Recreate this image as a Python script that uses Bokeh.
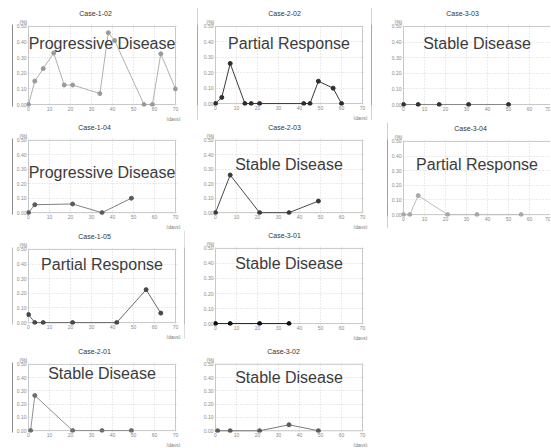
from bokeh.plotting import figure
from bokeh.models import (Label, FixedTicker, NumeralTickFormatter, Spacer, Title,
                          BoxAnnotation)
from bokeh.layouts import row, column
from bokeh.embed import file_html
from bokeh.resources import INLINE

# ---------------- data ----------------
x_ticks = [0, 10, 20, 30, 40, 50, 60, 70]
y_ticks = [0.0, 0.1, 0.2, 0.3, 0.4, 0.5]

case_1_02_days = [0, 3, 7, 12, 17, 21, 34, 38, 41, 55, 59, 63, 70]
case_1_02_pct = [0.00, 0.15, 0.23, 0.33, 0.125, 0.125, 0.07, 0.46, 0.41, 0.00, 0.00, 0.325, 0.10]

case_2_02_days = [0, 3, 7, 14, 17, 21, 42, 45, 49, 56, 60]
case_2_02_pct = [0.00, 0.04, 0.26, 0.00, 0.00, 0.00, 0.00, 0.00, 0.145, 0.10, 0.00]

case_3_03_days = [0, 7, 17, 31, 50]
case_3_03_pct = [0.00, 0.00, 0.00, 0.00, 0.00]

case_1_04_days = [0, 3, 21, 35, 49]
case_1_04_pct = [0.00, 0.055, 0.06, 0.00, 0.10]

case_2_03_days = [0, 7, 21, 35, 49]
case_2_03_pct = [0.00, 0.26, 0.00, 0.00, 0.08]

case_3_04_days = [0, 3, 7, 21, 35, 56]
case_3_04_pct = [0.00, 0.00, 0.13, 0.00, 0.00, 0.00]

case_1_05_days = [0, 3, 7, 21, 42, 56, 63]
case_1_05_pct = [0.055, 0.00, 0.00, 0.00, 0.00, 0.225, 0.065]

case_3_01_days = [0, 7, 21, 35]
case_3_01_pct = [0.00, 0.00, 0.00, 0.00]

case_2_01_days = [1, 3, 21, 35, 49]
case_2_01_pct = [0.00, 0.265, 0.00, 0.00, 0.00]

case_3_02_days = [1, 7, 21, 35, 49]
case_3_02_pct = [0.00, 0.00, 0.00, 0.045, 0.00]

FONT = "Liberation Sans"
PAD = 2  # px of breathing room so markers on the axes are not cut


def bar(w, h, color):
    f = figure(width=w, height=h, toolbar_location=None, output_backend="svg",
               x_axis_type=None, y_axis_type=None, title=None,
               min_border=0, min_border_left=0, min_border_right=0,
               min_border_top=0, min_border_bottom=0)
    f.outline_line_color = None
    f.background_fill_color = color
    f.border_fill_color = color
    return f


def edge(h, color, lead=12):
    """white strip of `lead` px followed by a 1px coloured vertical rule"""
    f = figure(width=lead + 1, height=h, toolbar_location=None, output_backend="svg",
               x_axis_type=None, y_axis_type=None, title=None,
               min_border=0, min_border_left=lead, min_border_right=0,
               min_border_top=0, min_border_bottom=0)
    f.outline_line_color = None
    f.background_fill_color = color
    f.border_fill_color = "white"
    return f


def panel(title, days, pct, outcome, outcome_y, w, h, bl, br, bt, bb,
          line_color, marker_color, title_c, days_label=True):
    fw = w - bl - br          # plot box width (0..70)
    fh = h - bt - bb          # plot box height (0..0.5)
    pr = PAD if br >= PAD else 0
    dx = 70.0 / fw
    dy = 0.5 / fh
    p = figure(width=w, height=h,
               x_range=(-PAD * dx, 70 + pr * dx), y_range=(-PAD * dy, 0.5 + PAD * dy),
               title=None, output_backend="svg", toolbar_location=None,
               min_border_left=bl - PAD, min_border_right=br - pr,
               min_border_top=bt - PAD, min_border_bottom=bb - PAD)
    p.outline_line_color = None
    p.background_fill_color = "white"
    p.border_fill_color = "white"
    p.xaxis.ticker = FixedTicker(ticks=x_ticks)
    p.yaxis.ticker = FixedTicker(ticks=y_ticks)
    p.yaxis.formatter = NumeralTickFormatter(format="0.00")
    for ax in p.axis:
        ax.axis_line_color = None
        ax.major_tick_line_color = None
        ax.minor_tick_line_color = None
        ax.major_tick_out = 0
        ax.major_tick_in = 0
        ax.major_label_text_font_size = "5px"
        ax.major_label_text_color = "#8a8a8a"
        ax.major_label_text_font = FONT
        ax.major_label_standoff = 0
    p.grid.grid_line_color = "#d6d6d6"
    p.grid.grid_line_dash = "1 2"
    p.add_layout(BoxAnnotation(left=0, right=70, bottom=0, top=0.5,
                               fill_color=None, fill_alpha=0,
                               line_color="#c8c8c8", line_alpha=1.0, line_width=1,
                               line_dash="solid", level="underlay"))
    p.line(days, pct, line_color=line_color, line_width=1)
    p.scatter(days, pct, size=4, fill_color=marker_color, line_color=marker_color)

    p.add_layout(Title(text="(%)", align="left", offset=-9 + PAD, standoff=0,
                       text_font=FONT, text_font_size="5px", text_font_style="normal",
                       text_color="#777777"), "above")
    p.add_layout(Title(text=title, align="left", offset=title_c - 16.3 + PAD, standoff=0,
                       text_font=FONT, text_font_size="7px", text_font_style="normal",
                       text_color="#333333"), "above")
    if days_label:
        p.add_layout(Title(text="(days)", align="right", offset=-5 + pr, standoff=0,
                           text_font=FONT, text_font_size="5px", text_font_style="normal",
                           text_color="#777777"), "below")
    p.add_layout(Label(x=35, y=outcome_y, text=outcome, level="overlay",
                       text_align="center", text_baseline="middle",
                       text_font=FONT, text_font_size="16px", text_color="#3c3c3c"))
    return p


# top rule
top = column(Spacer(width=550, height=6),
             row(Spacer(width=12, height=1), bar(538, 1, "#333333")))

# Row 1 (height 114)
A = panel("Case-1-02", case_1_02_days, case_1_02_pct, "Progressive Disease", 0.39,
          184, 114, 15, 22, 19, 16, "#b0b0b0", "#9a9a9a", 67)
B = panel("Case-2-02", case_2_02_days, case_2_02_pct, "Partial Response", 0.39,
          173, 113, 17, 9, 19, 15, "#3a3a3a", "#2e2e2e", 69)
B_box = column(row(bar(1, 113, "#555555"), B, bar(1, 113, "#555555")),
               bar(175, 1, "#555555"))
C = panel("Case-3-03", case_3_03_days, case_3_03_pct, "Stable Disease", 0.39,
          178, 114, 31, 0, 19, 16, "#888888", "#333333", 59, days_label=False)
row1 = row(edge(114, "#1a1a1a"), A, B_box, C)

# Row 2 (height 108)
D = panel("Case-1-04", case_1_04_days, case_1_04_pct, "Progressive Disease", 0.28,
          184, 108, 15, 22, 15, 15, "#808080", "#5a5a5a", 66)
E = panel("Case-2-03", case_2_03_days, case_2_03_pct, "Stable Disease", 0.335,
          190, 108, 18, 25, 15, 15, "#4a4a4a", "#3a3a3a", 69)
F = panel("Case-3-04", case_3_04_days, case_3_04_pct, "Partial Response", 0.34,
          162, 106, 15, 0, 14, 14, "#bdbdbd", "#a8a8a8", 67, days_label=False)
F_box = column(bar(163, 1, "#444444"), row(bar(1, 106, "#444444"), F),
               bar(163, 1, "#444444"))
row2 = row(edge(108, "#1a1a1a"), D, E, F_box)

# Row 3 (height 111)
G = panel("Case-1-05", case_1_05_days, case_1_05_pct, "Partial Response", 0.40,
          171, 109, 15, 9, 17, 14, "#6a6a6a", "#474747", 66)
G_box = column(row(Spacer(width=12, height=1), bar(173, 1, "#7a7a7a")),
               row(edge(109, "#7a7a7a"), G, bar(1, 109, "#7a7a7a")),
               row(Spacer(width=12, height=1), bar(173, 1, "#7a7a7a")))
H = panel("Case-3-01", case_3_01_days, case_3_01_pct, "Stable Disease", 0.40,
          187, 111, 30, 10, 18, 15, "#222222", "#111111", 69)
row3 = row(G_box, H, Spacer(width=178, height=111))

# Row 4 (height 107)
I = panel("Case-2-01", case_2_01_days, case_2_01_pct, "Stable Disease", 0.435,
          184, 107, 15, 22, 24, 14, "#909090", "#6e6e6e", 66)
J = panel("Case-3-02", case_3_02_days, case_3_02_pct, "Stable Disease", 0.40,
          175, 107, 18, 10, 16, 14, "#7a7a7a", "#5a5a5a", 68)
row4 = row(edge(107, "#1a1a1a"), I, J, Spacer(width=178, height=107))

layout = column(top, row1, row2, row3, row4)

open("out.html", "w").write(file_html(layout, INLINE))
